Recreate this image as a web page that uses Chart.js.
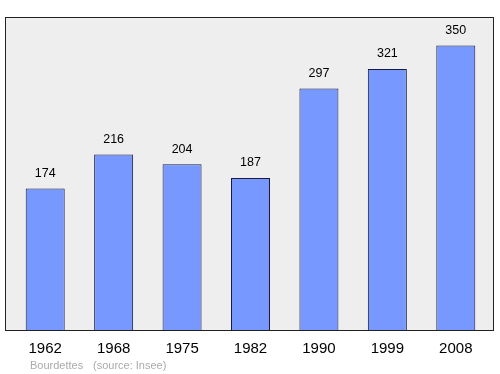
<!DOCTYPE html>
<html>
<head>
<meta charset="utf-8">
<script src="https://cdn.jsdelivr.net/npm/chart.js@4/dist/chart.umd.min.js"></script>
<style>
  html, body { margin: 0; padding: 0; background: #fff; }
  #wrap { width: 500px; height: 374px; }
</style>
</head>
<body>
<div id="wrap"><canvas id="graficoPoblacion"></canvas></div>
<script>
const years = ['1962', '1968', '1975', '1982', '1990', '1999', '2008'];
const population = [174, 216, 204, 187, 297, 321, 350];
const commune = 'Bourdettes';
const source = '(source: Insee)';

// fondo gris con borde negro detras de las barras
const framePlugin = {
  id: 'frame',
  beforeDraw(chart) {
    const { ctx, chartArea } = chart;
    ctx.save();
    ctx.fillStyle = '#eeeeee';
    ctx.strokeStyle = '#222';
    ctx.lineWidth = 1;
    const x = chartArea.left - 6, y = chartArea.top;
    const w = chartArea.right + 4 - x, h = chartArea.bottom - y;
    ctx.fillRect(x, y, w, h);
    ctx.strokeRect(x + 0.5, y + 0.5, w - 1, h);
    ctx.restore();
  },
  afterDatasetsDraw(chart) {
    const { ctx } = chart;
    const meta = chart.getDatasetMeta(0);
    ctx.save();
    ctx.fillStyle = '#000';
    ctx.font = '12.5px "Liberation Sans", Arial, sans-serif';
    ctx.textAlign = 'center';
    ctx.textBaseline = 'middle';
    meta.data.forEach((bar, i) => {
      ctx.fillText(String(population[i]), bar.x, bar.y - 15);
    });
    ctx.fillStyle = '#aaaaaa';
    ctx.font = '11px "Liberation Sans", Arial, sans-serif';
    ctx.textAlign = 'left';
    ctx.fillText(commune, 30, 366);
    ctx.fillText(source, 93, 366);
    ctx.restore();
  }
};

const ctx = document.getElementById('graficoPoblacion').getContext('2d');
const myChart = new Chart(ctx, {
  type: 'bar',
  data: {
    labels: years,
    datasets: [{
      data: population,
      backgroundColor: '#7799ff',
      borderColor: '#1a1a40',
      borderWidth: 1,
      borderSkipped: 'bottom',
      categoryPercentage: 1,
      barPercentage: 0.57
    }]
  },
  options: {
    responsive: true,
    maintainAspectRatio: false,
    animation: false,
    layout: { padding: { left: 11, right: 10, top: 17, bottom: 14 } },
    plugins: { legend: { display: false }, tooltip: { enabled: false } },
    scales: {
      x: {
        grid: { display: false },
        border: { display: false },
        ticks: {
          color: '#000',
          padding: 2,
          font: { size: 15, family: '"Liberation Sans", Arial, sans-serif' }
        }
      },
      y: { display: false, min: 0, max: 385 }
    }
  },
  plugins: [framePlugin]
});
</script>
</body>
</html>
